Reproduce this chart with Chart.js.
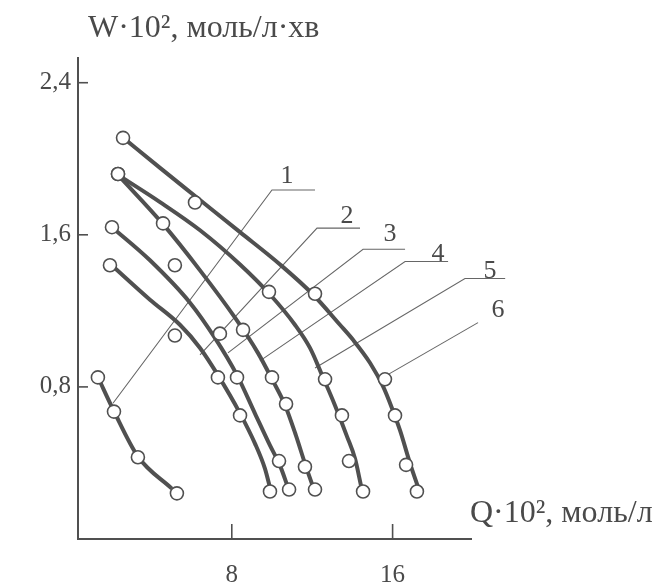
<!DOCTYPE html>
<html lang="uk">
<head>
    <meta charset="UTF-8">
    <title>W vs Q</title>
    <script src="https://cdn.jsdelivr.net/npm/chart.js"></script>
    <style>
html, body {
    margin: 0;
    padding: 0;
    background: #fff;
}
#box {
    position: relative;
    width: 671px;
    height: 586px;
}
    </style>
</head>
<body>
    <div id="box"><canvas id="WChart"></canvas></div>
    <script>
// axis ticks
const xTicks = [8, 16];
const yTicks = [0.8, 1.6, 2.4];

// measured points (circles), Q and W for curves 1..6
const q1 = [1.34, 2.14, 3.33, 5.27];
const w1 = [0.85, 0.67, 0.43, 0.24];
const q2 = [1.94, 5.17, 7.31, 8.41, 9.90];
const w2 = [1.44, 1.07, 0.85, 0.65, 0.25];
const q3 = [2.04, 5.17, 7.41, 8.26, 10.35, 10.85];
const w3 = [1.64, 1.44, 1.08, 0.85, 0.41, 0.26];
const q4 = [2.34, 4.58, 8.56, 10.0, 10.70, 11.64, 12.14];
const w4 = [1.92, 1.66, 1.10, 0.85, 0.71, 0.38, 0.26];
const q5 = [2.34, 9.85, 12.64, 13.48, 13.83, 14.53];
const w5 = [1.92, 1.30, 0.84, 0.65, 0.41, 0.25];
const q6 = [2.59, 6.17, 12.14, 15.62, 16.12, 16.67, 17.21];
const w6 = [2.11, 1.77, 1.29, 0.84, 0.65, 0.39, 0.25];

// drawn curves
const lq1 = [1.34, 2.14, 3.33, 5.02];
const lw1 = [0.852, 0.672, 0.434, 0.265];
const lq2 = [2.04, 3.93, 5.42, 6.42, 7.31, 8.41, 9.15, 9.65, 9.90];
const lw2 = [1.439, 1.259, 1.127, 1.005, 0.862, 0.661, 0.503, 0.370, 0.270];
const lq3 = [2.04, 3.93, 5.92, 7.16, 8.26, 9.15, 9.90, 10.40, 10.80];
const lw3 = [1.640, 1.466, 1.243, 1.058, 0.862, 0.661, 0.492, 0.386, 0.270];
const lq4 = [2.34, 4.58, 6.42, 8.16, 9.30, 10.0, 10.65, 11.19, 11.64, 12.04];
const lw4 = [1.915, 1.656, 1.413, 1.164, 0.979, 0.841, 0.704, 0.545, 0.397, 0.275];
const lq5 = [2.34, 4.43, 6.42, 8.41, 9.90, 11.14, 11.89, 12.49, 13.13, 13.73, 14.13, 14.43];
const lw5 = [1.915, 1.772, 1.624, 1.444, 1.286, 1.127, 1.005, 0.862, 0.704, 0.540, 0.423, 0.280];
const lq6 = [2.59, 4.43, 6.42, 8.41, 10.40, 12.04, 13.38, 14.03, 14.88, 15.52, 15.97, 16.37, 16.87, 17.26];
const lw6 = [2.111, 1.952, 1.783, 1.614, 1.444, 1.286, 1.127, 1.048, 0.926, 0.804, 0.688, 0.571, 0.397, 0.275];

// curve numbers and their leader lines (end on curve, bend, end of underline)
const curveNames = ['1', '2', '3', '4', '5', '6'];
const leadQ = [[2.09, 10.0, 12.14], [6.42, 12.24, 14.38], [7.81, 14.53, 16.62],
               [9.40, 16.62, 18.76], [12.14, 19.6, 21.6], [15.72, 20.25, 22.34]];
const leadW = [[0.714, 1.836, 1.836], [0.968, 1.635, 1.635], [0.979, 1.524, 1.524],
               [0.937, 1.46, 1.46], [0.899, 1.37, 1.37], [0.862, 1.138, 1.138]];
const nameQ = [10.75, 13.73, 15.87, 18.26, 20.85, 21.24];
const nameW = [1.92, 1.709, 1.614, 1.508, 1.418, 1.217];

const ink = '#505050';
const serif = '"Liberation Serif", "DejaVu Serif", serif';

function pts(qs, ws) {
    return qs.map((q, i) => ({x: q, y: ws[i]}));
}

const datasets = [];
[[lq1, lw1], [lq2, lw2], [lq3, lw3], [lq4, lw4], [lq5, lw5], [lq6, lw6]].forEach(([q, w]) => {
    datasets.push({
        data: pts(q, w),
        borderColor: ink,
        borderWidth: 4,
        pointRadius: 0,
        cubicInterpolationMode: 'monotone',
        order: 2
    });
});
[[q1, w1], [q2, w2], [q3, w3], [q4, w4], [q5, w5], [q6, w6]].forEach(([q, w]) => {
    datasets.push({
        data: pts(q, w),
        showLine: false,
        pointRadius: 6.5,
        pointBorderWidth: 1.6,
        pointBorderColor: ink,
        pointBackgroundColor: '#fff',
        order: 0
    });
});
leadQ.forEach((q, i) => {
    datasets.push({
        data: pts(q, leadW[i]),
        borderColor: '#666',
        borderWidth: 1.1,
        pointRadius: 0,
        tension: 0,
        clip: false,
        order: 3
    });
});

// tick marks inside the axes, titles and curve numbers
const extras = {
    id: 'extras',
    afterDraw(chart) {
        const {ctx, chartArea, scales} = chart;
        ctx.save();
        ctx.strokeStyle = ink;
        ctx.lineWidth = 1.6;
        yTicks.forEach(v => {
            const y = scales.y.getPixelForValue(v);
            ctx.beginPath();
            ctx.moveTo(chartArea.left, y);
            ctx.lineTo(chartArea.left + 10, y);
            ctx.stroke();
        });
        xTicks.forEach(v => {
            const x = scales.x.getPixelForValue(v);
            ctx.beginPath();
            ctx.moveTo(x, chartArea.bottom);
            ctx.lineTo(x, chartArea.bottom - 15);
            ctx.stroke();
        });
        ctx.fillStyle = '#4a4a4a';
        ctx.font = '26px ' + serif;
        ctx.textAlign = 'center';
        ctx.textBaseline = 'alphabetic';
        curveNames.forEach((n, i) => {
            ctx.fillText(n, scales.x.getPixelForValue(nameQ[i]), scales.y.getPixelForValue(nameW[i]) + 9);
        });
        ctx.textAlign = 'left';
        ctx.font = '32px ' + serif;
        ctx.fillText('W·10², моль/л·хв', chartArea.left + 10, 37);
        ctx.fillText('Q·10², моль/л', chartArea.right - 1, chartArea.bottom - 17);
        ctx.restore();
    }
};

new Chart(document.getElementById('WChart'), {
    type: 'line',
    data: { datasets: datasets },
    options: {
        responsive: true,
        maintainAspectRatio: false,
        animation: false,
        events: [],
        layout: { padding: { top: 58, right: 200, left: 0, bottom: 0 } },
        plugins: { legend: { display: false }, tooltip: { enabled: false } },
        scales: {
            x: {
                type: 'linear',
                min: 0.35,
                max: 19.9,
                afterBuildTicks: s => { s.ticks = xTicks.map(v => ({value: v})); },
                afterFit: s => { s.height = 47; },
                grid: { display: false, drawTicks: false },
                border: { display: true, color: ink, width: 2 },
                ticks: {
                    color: '#4a4a4a',
                    padding: 21,
                    font: { family: serif, size: 25 },
                    maxRotation: 0
                }
            },
            y: {
                type: 'linear',
                min: 0,
                max: 2.53,
                afterBuildTicks: s => { s.ticks = yTicks.map(v => ({value: v})); },
                afterFit: s => { s.width = 78; },
                grid: { display: false, drawTicks: false },
                border: { display: true, color: ink, width: 2 },
                ticks: {
                    color: '#4a4a4a',
                    padding: 7,
                    font: { family: serif, size: 25 },
                    callback: v => String(v).replace('.', ',')
                }
            }
        }
    },
    plugins: [extras]
});
    </script>
</body>
</html>
